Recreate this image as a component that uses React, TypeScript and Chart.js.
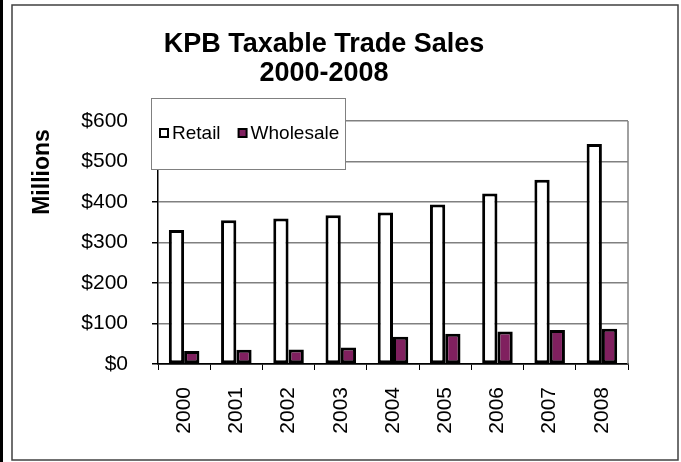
import { useEffect, useRef } from 'react';
import { Chart, registerables } from 'chart.js';

Chart.register(...registerables);

const years = ['2000', '2001', '2002', '2003', '2004', '2005', '2006', '2007', '2008'];
const retailValues = [331, 355, 359, 367, 374, 394, 421, 455, 543];
const wholesaleValues = [32, 35, 36, 41, 67, 75, 80, 84, 87];
const seriesNames = ['Retail', 'Wholesale'];
const titleLines = ['KPB Taxable Trade Sales', '2000-2008'];
const yAxisTitle = 'Millions';
const yMin = 0;
const yMax = 600;
const yStep = 100;

const FONT = '"Liberation Sans", Arial, sans-serif';

const decorPlugin = {
  id: 'decor',
  beforeDraw(chart: any) {
    const ctx = chart.ctx;
    ctx.save();
    ctx.fillStyle = '#ffffff';
    ctx.fillRect(0, 0, chart.width, chart.height);
    ctx.fillStyle = '#000000';
    ctx.fillRect(0, 0, 3, chart.height);
    ctx.strokeStyle = '#404040';
    ctx.lineWidth = 1.5;
    ctx.strokeRect(12, 5, 666, 455);
    ctx.restore();
  },
  beforeDatasetsDraw(chart: any) {
    const { ctx, chartArea } = chart;
    ctx.save();
    ctx.strokeStyle = '#808080';
    ctx.lineWidth = 1.5;
    ctx.beginPath();
    ctx.moveTo(chartArea.right, chartArea.top);
    ctx.lineTo(chartArea.right, chartArea.bottom);
    ctx.stroke();
    ctx.restore();
  },
  afterDraw(chart: any) {
    const ctx = chart.ctx;
    ctx.save();
    ctx.fillStyle = '#000000';
    ctx.font = `bold 27px ${FONT}`;
    ctx.textAlign = 'center';
    ctx.textBaseline = 'alphabetic';
    ctx.fillText(titleLines[0], 324, 52);
    ctx.fillText(titleLines[1], 324, 81);

    ctx.save();
    ctx.translate(43, 172);
    ctx.rotate(-Math.PI / 2);
    ctx.font = `bold 23px ${FONT}`;
    ctx.textAlign = 'center';
    ctx.textBaseline = 'middle';
    ctx.fillText(yAxisTitle, 0, 0);
    ctx.restore();

    const bx = 151.5, by = 98.5, bw = 194, bh = 71;
    ctx.fillStyle = '#ffffff';
    ctx.fillRect(bx, by, bw, bh);
    ctx.strokeStyle = '#808080';
    ctx.lineWidth = 1;
    ctx.strokeRect(bx, by, bw, bh);

    ctx.font = `19px ${FONT}`;
    ctx.textAlign = 'left';
    ctx.textBaseline = 'middle';
    let x = 160;
    const cy = 133;
    chart.data.datasets.forEach((ds: any) => {
      ctx.fillStyle = ds.backgroundColor;
      ctx.fillRect(x, cy - 4, 8, 8);
      ctx.strokeStyle = '#000000';
      ctx.lineWidth = 2;
      ctx.strokeRect(x, cy - 4, 8, 8);
      ctx.fillStyle = '#000000';
      ctx.fillText(ds.label, x + 12, cy + 1);
      x += 12 + ctx.measureText(ds.label).width + 18;
    });
    ctx.restore();
  },
};

export default function App() {
  const ref = useRef<HTMLCanvasElement | null>(null);

  useEffect(() => {
    if (!ref.current) return;
    const chart = new Chart(ref.current, {
      type: 'bar',
      data: {
        labels: years,
        datasets: [
          {
            label: seriesNames[0],
            data: retailValues,
            backgroundColor: '#ffffff',
            borderColor: '#000000',
            borderWidth: 3,
            borderSkipped: false,
          },
          {
            label: seriesNames[1],
            data: wholesaleValues,
            backgroundColor: '#80205f',
            borderColor: '#000000',
            borderWidth: 3,
            borderSkipped: false,
          },
        ],
      },
      options: {
        responsive: false,
        animation: false,
        devicePixelRatio: 1,
        layout: { padding: { top: 121, right: 53, bottom: 0, left: 0 } },
        datasets: {
          bar: { categoryPercentage: 0.585, barPercentage: 1.0 },
        },
        plugins: {
          legend: { display: false },
          title: { display: false },
          tooltip: { enabled: false },
        },
        scales: {
          x: {
            grid: {
              offset: true,
              drawOnChartArea: false,
              drawTicks: true,
              tickLength: 6,
              tickColor: '#000000',
            },
            border: { color: '#000000', width: 1.5 },
            ticks: {
              color: '#000000',
              font: { family: FONT, size: 21 },
              minRotation: 90,
              maxRotation: 90,
              autoSkip: false,
              padding: 17,
            },
            afterFit: (s: any) => {
              s.height = 98;
            },
          },
          y: {
            min: yMin,
            max: yMax,
            grid: {
              color: (c: any) => (c.tick && c.tick.value === 0 ? '#000000' : '#808080'),
              lineWidth: 1.5,
              drawTicks: true,
              tickLength: 6,
              tickColor: '#000000',
            },
            border: { color: '#000000', width: 1.5 },
            ticks: {
              stepSize: yStep,
              color: '#000000',
              font: { family: FONT, size: 21 },
              padding: 24,
              callback: (v: any) => '$' + v,
            },
            afterFit: (s: any) => {
              s.width = 158;
            },
          },
        },
      },
      plugins: [decorPlugin],
    });
    return () => chart.destroy();
  }, []);

  return (
    <div style={{ position: 'absolute', left: 0, top: 0, width: 681, height: 462 }}>
      <canvas ref={ref} width={681} height={462} style={{ display: 'block' }} />
    </div>
  );
}
